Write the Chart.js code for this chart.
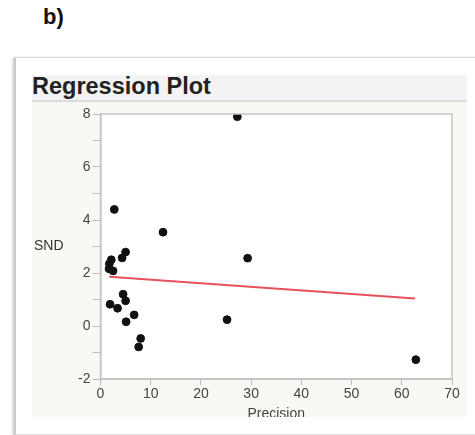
<!DOCTYPE html>
<html>
<head>
<meta charset="utf-8">
<script src="https://cdn.jsdelivr.net/npm/chart.js@4"></script>
<style>
  body { margin: 0; background: #fff; font-family: "Liberation Sans", Arial, sans-serif; }
  #label { position: absolute; left: 43px; top: 4px; font-size: 22px; font-weight: bold; color: #111; }
  #panel { position: absolute; left: 14px; top: 57px; width: 470px; height: 376px; border: 1px solid #ddd;
           border-left: 2px solid #c9c9c9; box-shadow: -1px 1px 3px rgba(0,0,0,0.25); background: #fff; }
  #head { position: absolute; left: 32px; top: 75px; width: 435px; height: 25px; background: #f3f3f3;
          border-bottom: 2px solid #dcdcdc; }
  #head span { position: absolute; left: 0; top: -2px; font-size: 23.5px; font-weight: bold; color: #222; }
  #wrap { position: absolute; left: 32px; top: 102px; width: 435px; height: 315px; background: #f9f8f4; }
  #ytitle { position: absolute; left: 34px; top: 237px; font-size: 14px; color: #333; }
</style>
</head>
<body>
<div id="label">b)</div>
<div id="panel"></div>
<div id="head"><span>Regression Plot</span></div>
<div id="wrap"><canvas id="chart" width="435" height="315"></canvas></div>
<div id="ytitle">SND</div>
<script>
"use strict";

// study points
const precision = [2.75, 12.45, 5.0, 4.3, 2.15, 1.76, 1.7, 2.5, 29.3, 4.5, 5.0, 1.9, 3.4, 6.7, 5.1, 25.2, 8.0, 7.6, 27.25, 62.8];
const snd = [4.4, 3.54, 2.79, 2.57, 2.5, 2.35, 2.16, 2.08, 2.56, 1.2, 0.95, 0.82, 0.67, 0.42, 0.16, 0.24, -0.47, -0.79, 7.9, -1.27];

// fitted regression line ends
const fitX = [1.75, 62.65];
const fitY = [1.86, 1.04];

const xTicks = [0, 10, 20, 30, 40, 50, 60, 70];
const yTicks = [-2, 0, 2, 4, 6, 8];

const points = [];
for (let i = 0; i < precision.length; i++) {
  points.push({ x: precision[i], y: snd[i] });
}
const fitLine = [];
for (let i = 0; i < fitX.length; i++) {
  fitLine.push({ x: fitX[i], y: fitY[i] });
}

// white plot area + gray frame
const frame = {
  id: "frame",
  beforeDraw(chart) {
    const a = chart.chartArea;
    const ctx = chart.ctx;
    ctx.save();
    ctx.fillStyle = "#fff";
    ctx.fillRect(a.left, a.top, a.right - a.left, a.bottom - a.top);
    ctx.restore();
  },
  afterDatasetsDraw(chart) {
    const a = chart.chartArea;
    const ctx = chart.ctx;
    ctx.save();
    ctx.strokeStyle = "#c4c4c4";
    ctx.lineWidth = 1.5;
    ctx.strokeRect(a.left, a.top, a.right - a.left, a.bottom - a.top);
    ctx.restore();
  }
};

const tickFont = { family: "Liberation Sans", size: 14 };

const config = {
  type: "scatter",
  data: {
    datasets: [
      {
        type: "line",
        data: fitLine,
        borderColor: "#e8505b",
        borderWidth: 2,
        pointRadius: 0,
        fill: false,
      },
      {
        data: points,
        backgroundColor: "#111",
        borderColor: "#111",
        pointRadius: 3.9,
      },
    ],
  },
  options: {
    responsive: false,
    animation: false,
    layout: { padding: { top: 12, right: 15, left: 0, bottom: 0 } },
    plugins: { legend: { display: false }, tooltip: { enabled: false } },
    scales: {
      x: {
        type: "linear",
        min: 0,
        max: 70,
        afterBuildTicks(axis) {
          axis.ticks = xTicks.map(v => ({ value: v }));
        },
        afterFit(axis) { axis.height = 38; },
        grid: { drawOnChartArea: false, tickLength: 6, color: "#bbb" },
        border: { color: "#bbb", width: 1.5 },
        ticks: { color: "#444", font: tickFont, padding: 1 },
        title: { display: true, text: "Precision", color: "#444", font: tickFont, padding: { top: 0, bottom: -5.5 } },
      },
      y: {
        type: "linear",
        min: -2,
        max: 8,
        afterBuildTicks(axis) {
          const t = [];
          for (let v = -2; v <= 8; v++) t.push({ value: v });
          axis.ticks = t;
        },
        afterFit(axis) { axis.width = 68.5; },
        grid: { drawOnChartArea: false, tickLength: 8, color: "#bbb" },
        border: { color: "#bbb", width: 1.5 },
        ticks: {
          color: "#444",
          font: tickFont,
          padding: 2,
          callback: v => (yTicks.includes(v) ? String(v) : ""),
        },
      },
    },
  },
  plugins: [frame],
};

const myChart = new Chart(document.getElementById("chart"), config);
</script>
</body>
</html>
